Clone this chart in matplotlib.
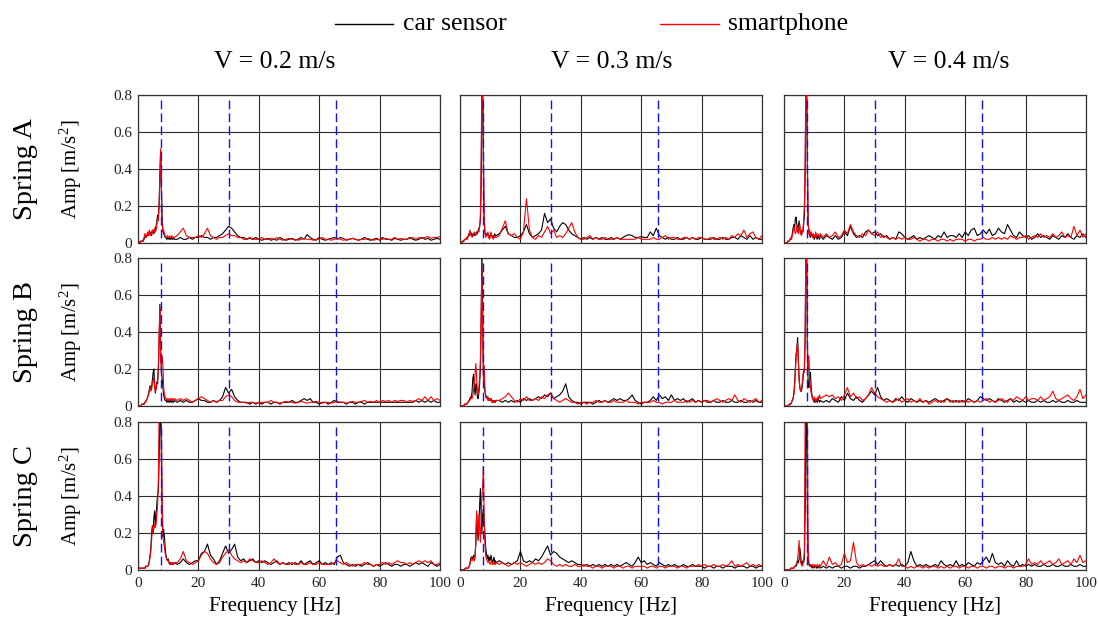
import numpy as np
import matplotlib
matplotlib.use("Agg")
import matplotlib.pyplot as plt
from matplotlib.lines import Line2D

plt.rcParams['font.family'] = ['Liberation Serif', 'DejaVu Serif']
plt.rcParams['mathtext.fontset'] = 'custom'
plt.rcParams['mathtext.rm'] = 'Liberation Serif'
plt.rcParams['mathtext.it'] = 'Liberation Serif:italic'

# ---------------- labels / categories ----------------
speeds = ['V = 0.2 m/s', 'V = 0.3 m/s', 'V = 0.4 m/s']
springs = ['Spring A', 'Spring B', 'Spring C']
series_labels = ['car sensor', 'smartphone']
mode_freqs = [7.6, 30.0, 65.7]          # blue dashed reference frequencies [Hz]
x_ticks = [0, 20, 40, 60, 80, 100]
y_ticks = [0, 0.2, 0.4, 0.6, 0.8]
y_ticklabels = ['0', '0.2', '0.4', '0.6', '0.8']

# Spectra: "_lo" = 0 .. 12 Hz every 0.25 Hz, "_hi" = 13 .. 100 Hz every 1 Hz
# ---------------- Spring A ----------------
a02_car_lo = [0.00,0.00,0.00,0.01, 0.01,0.01,0.01,0.01, 0.02,0.03,0.04,0.03, 0.04,0.05,0.04,0.05,
              0.06,0.05,0.04,0.06, 0.07,0.05,0.06,0.08, 0.09,0.12,0.15,0.14, 0.22,0.38,0.50,0.30,
              0.12,0.07,0.05,0.04, 0.03,0.03,0.02,0.03, 0.02,0.03,0.02,0.02, 0.03,0.02,0.02,0.03, 0.02]
a02_car_hi = [0.02,0.03,0.02,0.02,0.03,0.02,0.03,0.03,0.04,0.03,
              0.03,0.02,0.03,0.03,0.04,0.05,0.07,0.09,0.08,0.06,
              0.04,0.03,0.03,0.02,0.025,0.02,0.03,0.02,0.015,0.02,
              0.025,0.015,0.02,0.015,0.03,0.02,0.015,0.02,0.025,0.015,
              0.02,0.03,0.02,0.045,0.03,0.02,0.015,0.03,0.02,0.015,
              0.02,0.025,0.03,0.02,0.03,0.025,0.015,0.02,0.025,0.02,
              0.015,0.02,0.03,0.02,0.015,0.02,0.025,0.015,0.03,0.02,
              0.02,0.015,0.025,0.02,0.015,0.02,0.02,0.03,0.02,0.015,
              0.02,0.03,0.02,0.025,0.015,0.02,0.025,0.02]
a02_phone_lo = [0.00,0.00,0.00,0.00, 0.01,0.01,0.01,0.02, 0.03,0.05,0.04,0.03, 0.05,0.06,0.04,0.07,
                0.05,0.04,0.06,0.07, 0.05,0.06,0.08,0.06, 0.07,0.10,0.13,0.12, 0.20,0.35,0.51,0.28,
                0.10,0.06,0.07,0.05, 0.04,0.03,0.03,0.04, 0.03,0.03,0.04,0.03, 0.03,0.04,0.03,0.03, 0.03]
a02_phone_hi = [0.04,0.06,0.08,0.04,0.03,0.03,0.03,0.04,0.03,0.05,
                0.08,0.04,0.03,0.02,0.03,0.03,0.04,0.05,0.04,0.04,
                0.03,0.03,0.02,0.02,0.03,0.02,0.02,0.02,0.03,0.02,
                0.02,0.025,0.02,0.03,0.02,0.015,0.02,0.025,0.02,0.02,
                0.015,0.02,0.025,0.02,0.02,0.015,0.02,0.02,0.03,0.02,
                0.02,0.015,0.02,0.025,0.02,0.015,0.02,0.02,0.025,0.02,
                0.015,0.02,0.02,0.025,0.02,0.015,0.02,0.02,0.02,0.025,
                0.02,0.02,0.03,0.02,0.025,0.02,0.02,0.025,0.03,0.02,
                0.03,0.025,0.03,0.035,0.025,0.03,0.03,0.035]

a03_car_lo = [0.00,0.00,0.00,0.01, 0.01,0.01,0.02,0.02, 0.02,0.03,0.03,0.04, 0.05,0.04,0.06,0.05,
              0.04,0.05,0.04,0.05, 0.04,0.05,0.06,0.05, 0.06,0.08,0.09,0.12, 0.30,0.85,0.85,0.40,
              0.12,0.06,0.04,0.05, 0.04,0.05,0.04,0.03, 0.04,0.05,0.04,0.03, 0.04,0.03,0.05,0.04, 0.04]
a03_car_hi = [0.05,0.07,0.09,0.05,0.04,0.03,0.03,0.04,0.06,0.10,
              0.05,0.03,0.04,0.05,0.07,0.16,0.11,0.13,0.08,0.06,
              0.09,0.11,0.10,0.07,0.05,0.04,0.03,0.02,0.03,0.02,
              0.03,0.02,0.03,0.02,0.03,0.02,0.02,0.03,0.02,0.03,
              0.02,0.03,0.04,0.045,0.04,0.03,0.03,0.035,0.03,0.03,
              0.06,0.04,0.08,0.04,0.03,0.02,0.03,0.02,0.02,0.03,
              0.02,0.02,0.03,0.02,0.03,0.02,0.02,0.03,0.02,0.02,
              0.02,0.03,0.02,0.02,0.03,0.02,0.02,0.03,0.03,0.02,
              0.04,0.03,0.02,0.04,0.02,0.03,0.02,0.02]
a03_phone_lo = [0.00,0.00,0.00,0.00, 0.01,0.01,0.02,0.02, 0.02,0.03,0.02,0.04, 0.05,0.07,0.05,0.04,
                0.03,0.04,0.05,0.06, 0.05,0.04,0.05,0.06, 0.07,0.06,0.09,0.15, 0.45,0.90,0.90,0.50,
                0.15,0.06,0.03,0.04, 0.05,0.06,0.03,0.02, 0.03,0.06,0.04,0.03, 0.02,0.03,0.04,0.03, 0.03]
a03_phone_hi = [0.04,0.08,0.12,0.05,0.04,0.05,0.03,0.02,0.06,0.24,
                0.07,0.03,0.02,0.04,0.03,0.06,0.09,0.05,0.07,0.03,
                0.04,0.03,0.05,0.08,0.11,0.06,0.03,0.02,0.02,0.03,
                0.04,0.02,0.03,0.02,0.02,0.03,0.02,0.02,0.02,0.03,
                0.02,0.02,0.02,0.02,0.02,0.02,0.03,0.02,0.02,0.02,
                0.02,0.03,0.02,0.02,0.03,0.04,0.02,0.03,0.03,0.02,
                0.02,0.03,0.03,0.02,0.03,0.02,0.03,0.03,0.02,0.02,
                0.03,0.02,0.02,0.03,0.02,0.03,0.02,0.04,0.03,0.05,
                0.04,0.07,0.03,0.05,0.06,0.03,0.02,0.04]

a04_car_lo = [0.00,0.00,0.00,0.00, 0.00,0.01,0.01,0.01, 0.02,0.02,0.03,0.05, 0.08,0.10,0.08,0.13,
              0.14,0.10,0.06,0.09, 0.12,0.07,0.05,0.06, 0.07,0.06,0.10,0.15, 0.35,0.85,0.85,0.40,
              0.10,0.06,0.04,0.03, 0.04,0.05,0.03,0.04, 0.02,0.03,0.05,0.03, 0.02,0.04,0.03,0.02, 0.04]
a04_car_hi = [0.02,0.04,0.03,0.02,0.04,0.02,0.03,0.06,0.04,0.09,
              0.05,0.03,0.04,0.03,0.06,0.07,0.05,0.06,0.04,0.05,
              0.03,0.04,0.02,0.03,0.02,0.06,0.05,0.03,0.02,0.03,
              0.04,0.02,0.03,0.02,0.03,0.04,0.03,0.02,0.04,0.03,
              0.06,0.03,0.04,0.04,0.03,0.05,0.03,0.06,0.04,0.07,
              0.08,0.04,0.05,0.07,0.05,0.075,0.04,0.05,0.08,0.06,
              0.05,0.10,0.07,0.04,0.03,0.06,0.04,0.03,0.04,0.02,
              0.03,0.05,0.03,0.04,0.03,0.02,0.04,0.03,0.02,0.04,
              0.03,0.05,0.03,0.02,0.04,0.03,0.05,0.03]
a04_phone_lo = [0.00,0.00,0.00,0.00, 0.00,0.01,0.01,0.01, 0.02,0.03,0.02,0.04, 0.06,0.09,0.07,0.05,
                0.06,0.10,0.07,0.05, 0.08,0.10,0.06,0.04, 0.05,0.07,0.12,0.20, 0.45,0.90,0.90,0.45,
                0.12,0.05,0.07,0.04, 0.06,0.04,0.03,0.05, 0.04,0.03,0.06,0.04, 0.03,0.05,0.04,0.03, 0.05]
a04_phone_hi = [0.03,0.05,0.03,0.04,0.06,0.03,0.04,0.07,0.05,0.10,
                0.06,0.04,0.03,0.05,0.04,0.07,0.05,0.04,0.06,0.03,
                0.04,0.03,0.02,0.03,0.02,0.03,0.02,0.03,0.02,0.02,
                0.03,0.02,0.01,0.02,0.02,0.01,0.02,0.02,0.01,0.02,
                0.02,0.01,0.02,0.01,0.02,0.02,0.02,0.01,0.02,0.02,
                0.01,0.02,0.02,0.03,0.02,0.02,0.03,0.02,0.03,0.02,
                0.03,0.02,0.04,0.03,0.02,0.03,0.03,0.04,0.02,0.03,
                0.04,0.03,0.05,0.03,0.04,0.03,0.05,0.03,0.04,0.06,
                0.03,0.04,0.03,0.09,0.04,0.07,0.03,0.05]

# ---------------- Spring B ----------------
b02_car_lo = [0.00,0.00,0.00,0.00, 0.00,0.01,0.01,0.01, 0.01,0.02,0.02,0.03, 0.04,0.05,0.07,0.09,
              0.11,0.09,0.10,0.14, 0.18,0.20,0.12,0.07, 0.10,0.13,0.12,0.20, 0.35,0.55,0.30,0.18,
              0.15,0.10,0.06,0.04, 0.03,0.03,0.02,0.03, 0.02,0.03,0.02,0.03, 0.02,0.03,0.02,0.02, 0.03]
b02_car_hi = [0.02,0.03,0.02,0.03,0.02,0.02,0.03,0.04,0.03,0.03,
              0.02,0.02,0.03,0.02,0.03,0.05,0.10,0.07,0.09,0.05,
              0.03,0.02,0.02,0.02,0.01,0.02,0.01,0.02,0.01,0.02,
              0.02,0.01,0.02,0.02,0.01,0.02,0.02,0.02,0.03,0.02,
              0.02,0.03,0.04,0.03,0.04,0.02,0.02,0.01,0.02,0.02,
              0.01,0.02,0.03,0.02,0.02,0.02,0.01,0.02,0.02,0.01,
              0.02,0.02,0.01,0.02,0.02,0.02,0.02,0.02,0.02,0.02,
              0.02,0.02,0.02,0.02,0.02,0.02,0.02,0.02,0.02,0.03,
              0.02,0.03,0.02,0.03,0.02,0.03,0.02,0.02]
b02_phone_lo = [0.00,0.00,0.00,0.00, 0.00,0.01,0.01,0.01, 0.01,0.02,0.02,0.03, 0.04,0.05,0.06,0.08,
                0.10,0.08,0.09,0.12, 0.14,0.15,0.10,0.08, 0.09,0.12,0.14,0.22, 0.40,0.53,0.25,0.22,
                0.27,0.22,0.10,0.06, 0.05,0.04,0.03,0.04, 0.03,0.04,0.03,0.04, 0.04,0.03,0.04,0.03, 0.04]
b02_phone_hi = [0.03,0.04,0.03,0.04,0.03,0.02,0.03,0.04,0.05,0.04,
                0.03,0.02,0.03,0.02,0.03,0.03,0.05,0.06,0.05,0.03,
                0.02,0.02,0.02,0.015,0.02,0.02,0.015,0.02,0.02,0.02,
                0.02,0.03,0.02,0.02,0.015,0.02,0.025,0.02,0.02,0.015,
                0.02,0.025,0.02,0.015,0.02,0.02,0.025,0.02,0.015,0.02,
                0.02,0.015,0.02,0.025,0.02,0.02,0.015,0.02,0.025,0.02,
                0.02,0.025,0.03,0.02,0.025,0.02,0.03,0.02,0.03,0.025,
                0.03,0.02,0.03,0.025,0.03,0.03,0.02,0.03,0.025,0.03,
                0.04,0.03,0.05,0.03,0.05,0.03,0.04,0.03]

b03_car_lo = [0.00,0.00,0.00,0.00, 0.00,0.00,0.01,0.01, 0.01,0.01,0.02,0.02, 0.03,0.04,0.05,0.04,
              0.08,0.15,0.17,0.10, 0.06,0.12,0.10,0.05, 0.04,0.07,0.12,0.20, 0.45,0.85,0.50,0.18,
              0.12,0.08,0.06,0.05, 0.04,0.05,0.03,0.04, 0.03,0.04,0.03,0.02, 0.03,0.02,0.03,0.02, 0.03]
b03_car_hi = [0.03,0.02,0.03,0.02,0.03,0.02,0.03,0.02,0.04,0.03,
              0.04,0.03,0.04,0.05,0.04,0.06,0.05,0.07,0.04,0.05,
              0.06,0.08,0.12,0.05,0.03,0.02,0.02,0.01,0.02,0.02,
              0.02,0.01,0.02,0.03,0.02,0.03,0.02,0.03,0.04,0.03,
              0.04,0.03,0.03,0.04,0.06,0.03,0.02,0.01,0.02,0.02,
              0.03,0.05,0.03,0.06,0.04,0.05,0.03,0.06,0.03,0.04,
              0.03,0.04,0.02,0.03,0.04,0.02,0.03,0.02,0.03,0.02,
              0.02,0.03,0.02,0.02,0.03,0.02,0.02,0.03,0.02,0.02,
              0.03,0.02,0.02,0.03,0.02,0.03,0.02,0.02]
b03_phone_lo = [0.00,0.00,0.00,0.00, 0.00,0.00,0.01,0.01, 0.01,0.01,0.02,0.02, 0.03,0.03,0.04,0.05,
                0.04,0.06,0.08,0.12, 0.18,0.23,0.15,0.08, 0.06,0.10,0.15,0.25, 0.50,0.75,0.40,0.15,
                0.22,0.10,0.05,0.04, 0.05,0.03,0.04,0.03, 0.04,0.03,0.02,0.03, 0.02,0.03,0.02,0.03, 0.03]
b03_phone_hi = [0.03,0.04,0.05,0.07,0.05,0.03,0.02,0.04,0.03,0.05,
                0.03,0.03,0.04,0.03,0.05,0.04,0.06,0.07,0.04,0.03,
                0.02,0.03,0.04,0.03,0.02,0.02,0.01,0.02,0.02,0.01,
                0.02,0.02,0.03,0.02,0.02,0.03,0.02,0.02,0.03,0.02,
                0.02,0.02,0.03,0.02,0.02,0.02,0.01,0.02,0.02,0.02,
                0.02,0.03,0.02,0.02,0.01,0.02,0.02,0.02,0.03,0.02,
                0.02,0.02,0.03,0.02,0.03,0.02,0.03,0.02,0.03,0.03,
                0.02,0.03,0.04,0.03,0.02,0.03,0.04,0.03,0.06,0.03,
                0.02,0.04,0.03,0.02,0.03,0.04,0.02,0.03]

b04_car_lo = [0.00,0.00,0.00,0.00, 0.00,0.00,0.00,0.01, 0.01,0.01,0.02,0.03, 0.04,0.07,0.12,0.20,
              0.28,0.30,0.37,0.25, 0.15,0.10,0.08,0.08, 0.10,0.14,0.19,0.20, 0.35,0.85,0.85,0.30,
              0.12,0.10,0.15,0.18, 0.10,0.06,0.04,0.03, 0.02,0.04,0.02,0.03, 0.02,0.04,0.03,0.02, 0.03]
b04_car_hi = [0.02,0.03,0.02,0.04,0.03,0.02,0.05,0.03,0.07,0.04,
              0.03,0.05,0.03,0.02,0.04,0.06,0.08,0.06,0.10,0.05,
              0.03,0.04,0.03,0.02,0.04,0.03,0.05,0.03,0.02,0.04,
              0.03,0.02,0.03,0.02,0.03,0.02,0.03,0.04,0.03,0.02,
              0.03,0.04,0.03,0.02,0.03,0.02,0.03,0.02,0.04,0.03,
              0.02,0.03,0.05,0.04,0.03,0.04,0.03,0.02,0.04,0.03,
              0.02,0.03,0.04,0.02,0.03,0.02,0.03,0.02,0.03,0.02,
              0.02,0.03,0.02,0.03,0.02,0.02,0.03,0.02,0.03,0.02,
              0.02,0.03,0.02,0.02,0.03,0.02,0.02,0.02]
b04_phone_lo = [0.00,0.00,0.00,0.00, 0.00,0.00,0.00,0.01, 0.01,0.01,0.02,0.03, 0.04,0.06,0.10,0.18,
                0.26,0.32,0.34,0.24, 0.14,0.10,0.08,0.09, 0.12,0.16,0.20,0.18, 0.40,0.90,0.90,0.35,
                0.20,0.27,0.15,0.10, 0.07,0.05,0.04,0.03, 0.05,0.03,0.02,0.04, 0.03,0.05,0.04,0.06, 0.04]
b04_phone_hi = [0.05,0.06,0.05,0.06,0.04,0.05,0.03,0.06,0.10,0.05,
                0.07,0.04,0.05,0.03,0.04,0.06,0.10,0.07,0.05,0.04,
                0.03,0.02,0.03,0.02,0.03,0.04,0.02,0.03,0.04,0.02,
                0.03,0.02,0.04,0.02,0.03,0.01,0.02,0.03,0.02,0.03,
                0.02,0.04,0.02,0.03,0.02,0.03,0.02,0.03,0.02,0.03,
                0.02,0.03,0.02,0.03,0.04,0.02,0.03,0.02,0.03,0.04,
                0.03,0.02,0.04,0.03,0.05,0.04,0.03,0.05,0.03,0.04,
                0.04,0.03,0.05,0.03,0.04,0.05,0.08,0.04,0.03,0.04,
                0.05,0.06,0.04,0.03,0.05,0.09,0.04,0.06]

# ---------------- Spring C ----------------
c02_car_lo = [0.01,0.01,0.01,0.01, 0.01,0.01,0.01,0.01, 0.01,0.01,0.02,0.02, 0.02,0.02,0.03,0.05,
              0.08,0.12,0.20,0.24, 0.20,0.28,0.32,0.25, 0.30,0.36,0.41,0.42, 0.60,0.85,0.85,0.60,
              0.30,0.18,0.22,0.18, 0.12,0.08,0.06,0.05, 0.06,0.04,0.03,0.04, 0.03,0.04,0.03,0.03, 0.04]
c02_car_hi = [0.03,0.04,0.06,0.04,0.03,0.04,0.05,0.05,0.09,0.10,
              0.14,0.08,0.06,0.03,0.05,0.09,0.13,0.09,0.11,0.14,
              0.07,0.05,0.06,0.04,0.05,0.06,0.04,0.05,0.04,0.05,
              0.04,0.03,0.04,0.05,0.03,0.04,0.03,0.04,0.03,0.04,
              0.03,0.05,0.03,0.04,0.05,0.03,0.04,0.05,0.03,0.04,
              0.03,0.04,0.03,0.07,0.08,0.04,0.03,0.02,0.03,0.02,
              0.03,0.02,0.03,0.04,0.03,0.02,0.03,0.02,0.03,0.04,
              0.03,0.02,0.03,0.03,0.02,0.03,0.03,0.02,0.03,0.04,
              0.03,0.04,0.03,0.02,0.04,0.03,0.02,0.03]
c02_phone_lo = [0.01,0.01,0.01,0.01, 0.01,0.01,0.01,0.01, 0.01,0.01,0.01,0.02, 0.02,0.02,0.03,0.04,
                0.07,0.10,0.16,0.22, 0.24,0.22,0.25,0.23, 0.25,0.30,0.35,0.50, 0.85,0.90,0.90,0.85,
                0.40,0.18,0.15,0.12, 0.09,0.07,0.06,0.05, 0.05,0.04,0.04,0.03, 0.04,0.03,0.04,0.03, 0.04]
c02_phone_hi = [0.04,0.06,0.10,0.05,0.04,0.03,0.04,0.05,0.08,0.10,
                0.09,0.06,0.04,0.03,0.04,0.07,0.09,0.11,0.08,0.06,
                0.05,0.04,0.05,0.04,0.06,0.05,0.04,0.04,0.05,0.04,
                0.03,0.04,0.06,0.04,0.03,0.04,0.03,0.03,0.04,0.03,
                0.03,0.04,0.03,0.03,0.04,0.03,0.03,0.04,0.03,0.03,
                0.03,0.03,0.04,0.05,0.04,0.03,0.04,0.03,0.02,0.03,
                0.03,0.03,0.04,0.03,0.03,0.02,0.03,0.03,0.04,0.03,
                0.04,0.03,0.04,0.05,0.04,0.04,0.03,0.04,0.03,0.04,
                0.05,0.04,0.05,0.04,0.05,0.03,0.03,0.04]

c03_car_lo = [0.00,0.00,0.00,0.00, 0.00,0.00,0.00,0.01, 0.01,0.01,0.01,0.01, 0.02,0.03,0.06,0.07,
              0.07,0.06,0.08,0.05, 0.08,0.15,0.30,0.22, 0.16,0.25,0.35,0.44, 0.30,0.20,0.30,0.33,
              0.25,0.19,0.12,0.09, 0.06,0.08,0.05,0.07, 0.05,0.08,0.06,0.04, 0.05,0.07,0.04,0.05, 0.04]
c03_car_hi = [0.05,0.04,0.03,0.04,0.03,0.04,0.05,0.10,0.05,0.04,
              0.05,0.04,0.06,0.05,0.07,0.10,0.13,0.08,0.10,0.09,
              0.07,0.06,0.05,0.04,0.05,0.04,0.03,0.03,0.02,0.03,
              0.02,0.03,0.02,0.03,0.02,0.03,0.02,0.03,0.02,0.03,
              0.02,0.03,0.04,0.03,0.02,0.04,0.07,0.04,0.05,0.03,
              0.04,0.03,0.02,0.04,0.03,0.02,0.03,0.02,0.03,0.02,
              0.02,0.03,0.02,0.02,0.03,0.02,0.02,0.02,0.01,0.02,
              0.02,0.01,0.02,0.02,0.01,0.02,0.02,0.02,0.01,0.02,
              0.02,0.02,0.01,0.02,0.02,0.01,0.02,0.02]
c03_phone_lo = [0.00,0.00,0.00,0.00, 0.00,0.00,0.00,0.01, 0.01,0.01,0.01,0.01, 0.02,0.03,0.05,0.06,
                0.05,0.06,0.07,0.05, 0.08,0.15,0.32,0.25, 0.18,0.30,0.22,0.15, 0.28,0.40,0.45,0.56,
                0.30,0.15,0.08,0.06, 0.05,0.04,0.05,0.04, 0.03,0.04,0.05,0.03, 0.04,0.03,0.04,0.03, 0.04]
c03_phone_hi = [0.03,0.04,0.03,0.02,0.03,0.04,0.03,0.04,0.03,0.02,
                0.03,0.04,0.03,0.04,0.03,0.04,0.06,0.05,0.03,0.02,
                0.03,0.02,0.03,0.02,0.02,0.03,0.02,0.02,0.03,0.02,
                0.02,0.01,0.02,0.02,0.01,0.02,0.02,0.02,0.01,0.02,
                0.02,0.01,0.02,0.02,0.01,0.02,0.02,0.02,0.02,0.01,
                0.02,0.02,0.01,0.02,0.02,0.01,0.02,0.02,0.02,0.01,
                0.02,0.02,0.01,0.02,0.02,0.02,0.03,0.02,0.03,0.02,
                0.02,0.03,0.02,0.02,0.03,0.02,0.03,0.05,0.02,0.03,
                0.02,0.03,0.04,0.02,0.03,0.02,0.03,0.02]

c04_car_lo = [0.00,0.00,0.00,0.00, 0.00,0.00,0.00,0.00, 0.00,0.01,0.01,0.01, 0.01,0.01,0.02,0.02,
              0.02,0.03,0.05,0.04, 0.06,0.12,0.08,0.04, 0.03,0.05,0.04,0.06, 0.30,0.85,0.85,0.30,
              0.06,0.03,0.02,0.03, 0.02,0.01,0.02,0.02, 0.01,0.02,0.02,0.01, 0.02,0.01,0.02,0.02, 0.01]
c04_car_hi = [0.02,0.01,0.02,0.01,0.02,0.02,0.01,0.02,0.02,0.01,
              0.02,0.02,0.01,0.02,0.02,0.03,0.04,0.05,0.03,0.05,
              0.03,0.02,0.03,0.02,0.03,0.02,0.03,0.02,0.04,0.10,
              0.05,0.02,0.03,0.02,0.03,0.02,0.02,0.03,0.02,0.05,
              0.03,0.02,0.03,0.02,0.05,0.02,0.03,0.02,0.04,0.03,
              0.02,0.04,0.03,0.05,0.07,0.04,0.09,0.04,0.03,0.04,
              0.02,0.05,0.03,0.02,0.05,0.02,0.03,0.02,0.03,0.02,
              0.03,0.02,0.02,0.03,0.02,0.02,0.03,0.02,0.02,0.03,
              0.02,0.02,0.03,0.02,0.02,0.03,0.02,0.02]
c04_phone_lo = [0.00,0.00,0.00,0.00, 0.00,0.00,0.00,0.00, 0.00,0.01,0.01,0.01, 0.01,0.01,0.02,0.02,
                0.03,0.04,0.06,0.10, 0.16,0.07,0.04,0.03, 0.02,0.03,0.05,0.10, 0.85,0.90,0.90,0.85,
                0.10,0.04,0.03,0.02, 0.03,0.02,0.03,0.02, 0.02,0.03,0.02,0.02, 0.03,0.02,0.02,0.03, 0.02]
c04_phone_hi = [0.05,0.02,0.07,0.03,0.04,0.02,0.03,0.09,0.04,0.05,
                0.15,0.04,0.02,0.03,0.02,0.03,0.02,0.03,0.02,0.03,
                0.02,0.02,0.03,0.02,0.03,0.06,0.02,0.02,0.01,0.02,
                0.01,0.02,0.02,0.01,0.02,0.01,0.02,0.02,0.01,0.02,
                0.01,0.02,0.01,0.02,0.02,0.01,0.02,0.02,0.01,0.02,
                0.02,0.01,0.02,0.02,0.01,0.02,0.02,0.01,0.02,0.02,
                0.01,0.02,0.02,0.01,0.02,0.02,0.02,0.03,0.06,0.03,
                0.04,0.03,0.05,0.03,0.04,0.05,0.03,0.04,0.06,0.03,
                0.04,0.05,0.03,0.06,0.04,0.08,0.04,0.05]

car_data = [[(a02_car_lo, a02_car_hi), (a03_car_lo, a03_car_hi), (a04_car_lo, a04_car_hi)],
            [(b02_car_lo, b02_car_hi), (b03_car_lo, b03_car_hi), (b04_car_lo, b04_car_hi)],
            [(c02_car_lo, c02_car_hi), (c03_car_lo, c03_car_hi), (c04_car_lo, c04_car_hi)]]
phone_data = [[(a02_phone_lo, a02_phone_hi), (a03_phone_lo, a03_phone_hi), (a04_phone_lo, a04_phone_hi)],
              [(b02_phone_lo, b02_phone_hi), (b03_phone_lo, b03_phone_hi), (b04_phone_lo, b04_phone_hi)],
              [(c02_phone_lo, c02_phone_hi), (c03_phone_lo, c03_phone_hi), (c04_phone_lo, c04_phone_hi)]]


def spectrum(pair):
    lo, hi = pair
    f = np.concatenate([np.arange(len(lo)) * 0.25, 13 + np.arange(len(hi))])
    a = np.concatenate([lo, hi])
    return f, a


# ---------------- figure ----------------
W_PX, H_PX = 1098, 622
fig = plt.figure(figsize=(W_PX / 100, H_PX / 100), dpi=100)
fig.patch.set_facecolor('white')

lefts = [138, 460, 784]
tops = [95, 258, 422]
aw, ah = 302, 148
grid_col = '#2a2a2a'

for r in range(3):
    for c in range(3):
        ax = fig.add_axes([lefts[c] / W_PX, 1 - (tops[r] + ah) / H_PX, aw / W_PX, ah / H_PX])
        ax.set_xlim(0, 100)
        ax.set_ylim(0, 0.8)
        ax.set_xticks(x_ticks)
        ax.set_yticks(y_ticks)
        ax.grid(True, color=grid_col, lw=0.8)
        ax.set_axisbelow(True)
        for s in ax.spines.values():
            s.set_color('#333333')
            s.set_linewidth(0.9)
        ax.tick_params(length=0, labelsize=11, colors='#222222')
        ax.tick_params(axis='y', pad=4)
        ax.tick_params(axis='x', pad=5)
        if c == 0:
            ax.set_yticklabels(y_ticklabels)
        else:
            ax.set_yticklabels([])
        if r < 2:
            ax.set_xticklabels([])
        fc, ac = spectrum(car_data[r][c])
        fp, ap = spectrum(phone_data[r][c])
        ax.plot(fc, ac, color='black', lw=0.8, zorder=3)
        ax.plot(fp, ap, color='red', lw=0.8, zorder=4)
        for mf in mode_freqs:
            ax.plot([mf, mf], [0.775, 0], color='#1010ff', lw=1.0,
                    dashes=(6.3, 3.0), zorder=5)

# column titles
title_x = [275, 612, 949]
for c in range(3):
    fig.text(title_x[c] / W_PX, 1 - 68 / H_PX, speeds[c], fontsize=18.5,
             ha='center', va='baseline')

# x labels
xl_x = [275, 611, 935]
for c in range(3):
    fig.text(xl_x[c] / W_PX, 1 - 607 / H_PX, 'Frequency [Hz]', fontsize=15,
             ha='center', va='center')

# row labels
for r in range(3):
    yc = 1 - (tops[r] + ah / 2) / H_PX
    fig.text(25 / W_PX, yc, springs[r], fontsize=20.5, rotation=90,
             ha='center', va='center')
    fig.text(71 / W_PX, yc, r'Amp [m/s$^{\mathrm{2}}$]', fontsize=15, rotation=90,
             ha='center', va='center')

# legend (top)
ly = 1 - 23.5 / H_PX
fig.add_artist(Line2D([335 / W_PX, 393 / W_PX], [ly, ly], color='black', lw=1.0,
                      transform=fig.transFigure))
fig.text(403 / W_PX, 1 - 30 / H_PX, series_labels[0], fontsize=18.5, ha='left', va='baseline')
fig.add_artist(Line2D([660 / W_PX, 719 / W_PX], [ly, ly], color='red', lw=1.0,
                      transform=fig.transFigure))
fig.text(728 / W_PX, 1 - 30 / H_PX, series_labels[1], fontsize=18.5, ha='left', va='baseline')

fig.savefig('out.png', dpi=100, facecolor='white')
